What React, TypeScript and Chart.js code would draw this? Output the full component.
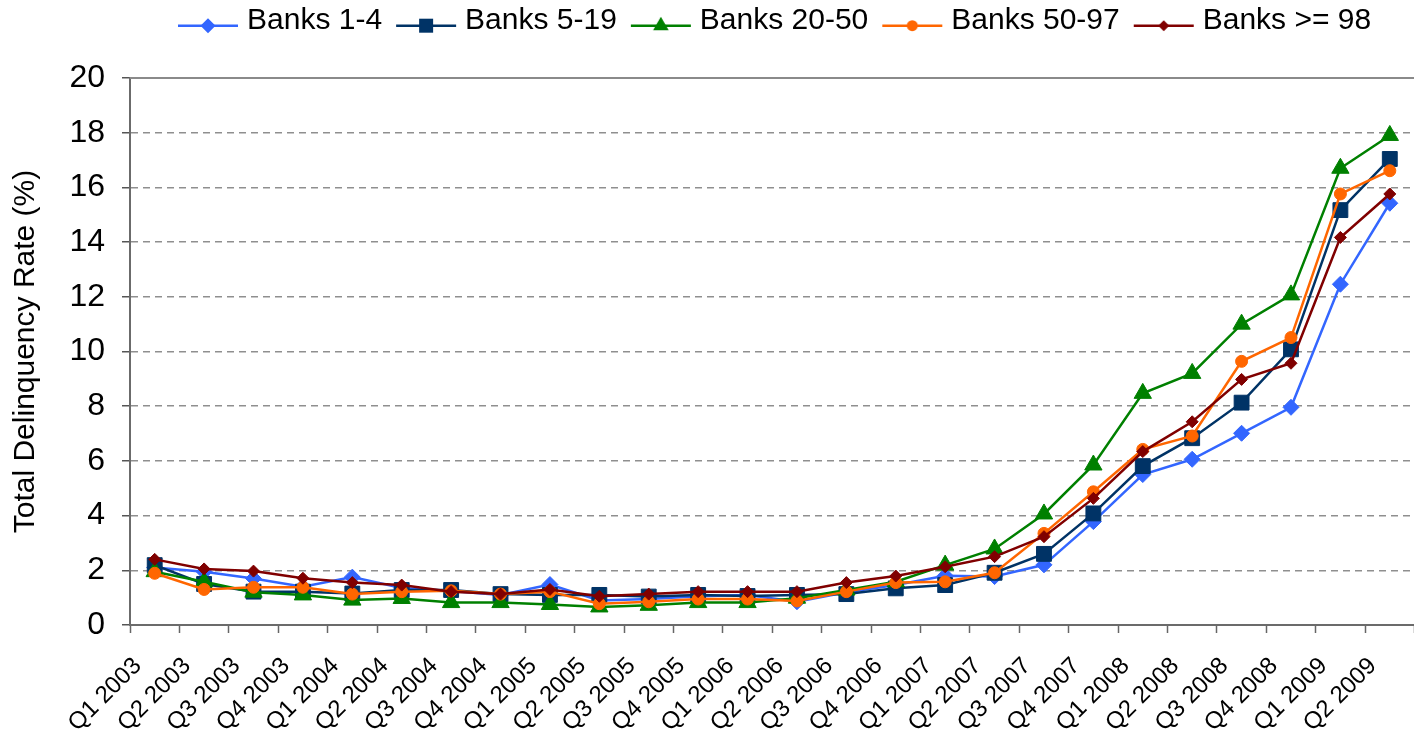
import React, { useEffect, useRef } from 'react';
import { Chart, registerables } from 'chart.js';

Chart.register(...registerables);

const quarters = [
  'Q1 2003', 'Q2 2003', 'Q3 2003', 'Q4 2003',
  'Q1 2004', 'Q2 2004', 'Q3 2004', 'Q4 2004',
  'Q1 2005', 'Q2 2005', 'Q3 2005', 'Q4 2005',
  'Q1 2006', 'Q2 2006', 'Q3 2006', 'Q4 2006',
  'Q1 2007', 'Q2 2007', 'Q3 2007', 'Q4 2007',
  'Q1 2008', 'Q2 2008', 'Q3 2008', 'Q4 2008',
  'Q1 2009', 'Q2 2009',
];

const banks1to4 = [2.1, 1.95, 1.7, 1.4, 1.75, 1.35, 1.24, 1.1, 1.48, 0.9, 0.95, 1.05, 1.1, 0.85, 1.2, 1.46, 1.8, 1.77, 2.2, 3.78, 5.5, 6.06, 7.01, 7.96, 12.46, 15.42];
const banks5to19 = [2.19, 1.5, 1.22, 1.22, 1.15, 1.28, 1.28, 1.13, 1.1, 1.1, 1.04, 1.1, 1.06, 1.1, 1.13, 1.34, 1.46, 1.91, 2.6, 4.08, 5.81, 6.83, 8.13, 10.08, 15.17, 17.04];
const banks20to50 = [1.95, 1.58, 1.2, 1.1, 0.91, 0.97, 0.82, 0.82, 0.75, 0.66, 0.72, 0.82, 0.82, 0.98, 1.28, 1.58, 2.19, 2.78, 4.06, 5.85, 8.47, 9.2, 11.0, 12.07, 16.7, 17.9];
const banks50to97 = [1.89, 1.3, 1.38, 1.38, 1.13, 1.22, 1.25, 1.13, 1.22, 0.78, 0.85, 0.95, 0.95, 0.88, 1.22, 1.55, 1.58, 1.91, 3.35, 4.87, 6.42, 6.91, 9.64, 10.51, 15.76, 16.61];
const banks98plus = [2.4, 2.05, 1.97, 1.71, 1.55, 1.46, 1.22, 1.13, 1.3, 1.05, 1.13, 1.22, 1.22, 1.22, 1.55, 1.79, 2.13, 2.5, 3.23, 4.63, 6.34, 7.43, 8.98, 9.57, 14.17, 15.76];

const seriesNames = ['Banks 1-4', 'Banks 5-19', 'Banks 20-50', 'Banks 50-97', 'Banks >= 98'];

const yMin = 0;
const yMax = 20;
const yStep = 2;
const yTitle = 'Total Delinquency Rate (%)';

const FONT = "'Liberation Sans', Arial, sans-serif";

type Shape = 'diamond' | 'square' | 'triangle' | 'circle';

const styles: { color: string; shape: Shape; pointStyle: string; radius: number; iconSize: number }[] = [
  { color: '#3366FF', shape: 'diamond', pointStyle: 'rectRot', radius: 8, iconSize: 7.5 },
  { color: '#003366', shape: 'square', pointStyle: 'rect', radius: 10.5, iconSize: 7 },
  { color: '#008000', shape: 'triangle', pointStyle: 'triangle', radius: 10, iconSize: 9 },
  { color: '#FF6600', shape: 'circle', pointStyle: 'circle', radius: 6, iconSize: 5.5 },
  { color: '#800000', shape: 'diamond', pointStyle: 'rectRot', radius: 6, iconSize: 5.5 },
];

function makeIcon(color: string, shape: Shape, size: number): HTMLCanvasElement {
  const c = document.createElement('canvas');
  c.width = 80;
  c.height = 30;
  const g = c.getContext('2d')!;
  const ly = 19.7;
  const mx = 47;
  g.strokeStyle = color;
  g.lineWidth = 2.5;
  g.beginPath();
  g.moveTo(17, ly);
  g.lineTo(77, ly);
  g.stroke();
  g.fillStyle = color;
  g.beginPath();
  if (shape === 'diamond') {
    g.moveTo(mx - size, ly);
    g.lineTo(mx, ly - size);
    g.lineTo(mx + size, ly);
    g.lineTo(mx, ly + size);
    g.closePath();
  } else if (shape === 'square') {
    g.rect(mx - size, ly - size, size * 2, size * 2);
  } else if (shape === 'triangle') {
    g.moveTo(mx, ly - size);
    g.lineTo(mx + size * 0.866, ly + size * 0.5);
    g.lineTo(mx - size * 0.866, ly + size * 0.5);
    g.closePath();
  } else {
    g.arc(mx, ly, size, 0, Math.PI * 2);
  }
  g.fill();
  return c;
}

export default function App() {
  const canvasRef = useRef<HTMLCanvasElement | null>(null);

  useEffect(() => {
    document.body.style.margin = '0';
    const canvas = canvasRef.current;
    if (!canvas) return;

    const icons = styles.map((s) => makeIcon(s.color, s.shape, s.iconSize));
    const values = [banks1to4, banks5to19, banks20to50, banks50to97, banks98plus];

    const legendTweak = {
      id: 'legendTweak',
      beforeInit(chart: any) {
        const legend = chart.legend;
        if (!legend) return;
        const origFit = legend.fit;
        legend.fit = function () {
          origFit.call(this);
          this.height = 78;
        };
      },
      afterLayout(chart: any) {
        const legend = chart.legend;
        if (!legend) return;
        const w = legend.right - legend.left;
        legend.left = 164;
        legend.right = 164 + w;
      },
    };

    const topBorder = {
      id: 'topBorder',
      beforeDatasetsDraw(chart: any) {
        const { ctx, chartArea } = chart;
        const yTop = chart.scales.y.getPixelForValue(yMax);
        ctx.save();
        ctx.strokeStyle = '#8a8a8a';
        ctx.lineWidth = 2;
        ctx.beginPath();
        ctx.moveTo(chartArea.left, yTop);
        ctx.lineTo(chartArea.right, yTop);
        ctx.stroke();
        ctx.restore();
      },
    };

    const chart = new Chart(canvas, {
      type: 'line',
      data: {
        labels: quarters,
        datasets: values.map((v, i) => ({
          label: seriesNames[i],
          data: v,
          borderColor: styles[i].color,
          backgroundColor: styles[i].color,
          borderWidth: 2.5,
          pointStyle: styles[i].pointStyle as any,
          pointRadius: styles[i].radius,
          pointHoverRadius: styles[i].radius,
          pointBorderWidth: 1,
          pointBorderColor: styles[i].color,
          pointBackgroundColor: styles[i].color,
          tension: 0,
          fill: false,
          order: 5 - i,
        })),
      },
      options: {
        animation: false,
        responsive: false,
        events: [],
        layout: { padding: { left: 4, right: 0, top: 0, bottom: 0 } },
        plugins: {
          legend: {
            position: 'top',
            align: 'start',
            labels: {
              usePointStyle: true,
              pointStyleWidth: 62,
              padding: 6,
              color: '#000',
              font: { family: FONT, size: 30 },
              sort: (a: any, b: any) => a.datasetIndex - b.datasetIndex,
              generateLabels(ch: any) {
                const items = Chart.defaults.plugins.legend.labels.generateLabels(ch);
                items.forEach((it: any) => {
                  it.pointStyle = icons[it.datasetIndex];
                });
                return items;
              },
            },
          },
          tooltip: { enabled: false },
        },
        scales: {
          x: {
            type: 'category',
            offset: true,
            grid: {
              offset: true,
              drawOnChartArea: false,
              drawTicks: true,
              tickLength: 8,
              tickColor: '#666',
              tickWidth: 1.5,
            },
            border: { color: '#6b6b6b', width: 2 },
            ticks: {
              autoSkip: false,
              maxRotation: 45,
              minRotation: 45,
              labelOffset: -17,
              padding: 19,
              color: '#000',
              font: { family: FONT, size: 24 },
            },
            afterFit(s: any) {
              s.height = 107;
              s.paddingLeft = 0;
              s.paddingRight = 0;
            },
          },
          y: {
            min: yMin,
            max: yMax,
            ticks: {
              stepSize: yStep,
              padding: 17,
              color: '#000',
              font: { family: FONT, size: 32 },
            },
            grid: {
              color: '#8f8f8f',
              lineWidth: 1.5,
              tickLength: 8,
              tickColor: '#555',
              tickWidth: 1.5,
            },
            border: { color: '#6b6b6b', width: 2, dash: [7, 5] },
            title: {
              display: true,
              text: yTitle,
              color: '#000',
              font: { family: FONT, size: 30 },
              padding: { top: 4, bottom: 8 },
            },
            afterFit(s: any) {
              s.width = 126;
            },
          },
        },
      },
      plugins: [legendTweak, topBorder],
    } as any);

    return () => {
      chart.destroy();
    };
  }, []);

  return (
    <div style={{ width: 1414, height: 732, overflow: 'hidden', background: '#fff' }}>
      <canvas ref={canvasRef} width={1426} height={732} style={{ display: 'block' }} />
    </div>
  );
}
